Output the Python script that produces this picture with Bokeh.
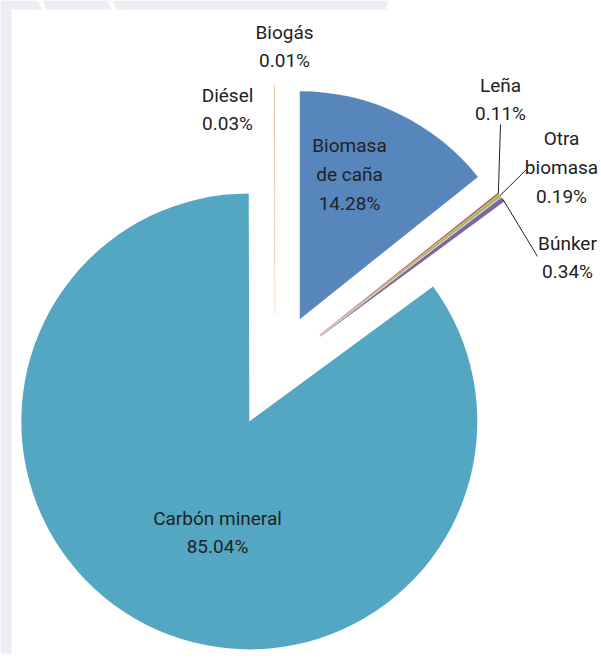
import numpy as np
from bokeh.plotting import figure
from bokeh.models import ColumnDataSource, Range1d
from bokeh.core.properties import value
from bokeh.embed import file_html
from bokeh.resources import INLINE

# Fuel shares (%) in drawing order, clockwise from 12 o'clock
categories = ["Biomasa de caña", "Leña", "Otra biomasa", "Búnker",
              "Carbón mineral", "Diésel", "Biogás"]
shares = [14.28, 0.11, 0.19, 0.34, 85.04, 0.03, 0.01]
colors = ["#5686BB", "#C0504D", "#9BBB59", "#8064A2",
          "#53A7C2", "#F79646", "#D9D9D9"]
# label text as wrapped on the chart
label_names = ["Biomasa\nde caña", "Leña", "Otra\nbiomasa", "Búnker",
               "Carbón mineral", "Diésel", "Biogás"]

W, H = 601, 663
FONT = value("Roboto")


def sy(y):
    """screen-pixel y (top down) -> plot y (bottom up)"""
    return H - y


# pie geometry
CX, CY = 274.5, sy(370)
R = 228
EXPLODE = 0.25 * R

vals = np.array(shares, dtype=float)
ends = np.cumsum(vals) / vals.sum() * 360.0
starts = ends - vals / vals.sum() * 360.0
mids = np.radians((starts + ends) / 2)

ox = CX + EXPLODE * np.sin(mids)
oy = CY + EXPLODE * np.cos(mids)

src = ColumnDataSource(dict(
    x=ox, y=oy,
    start=np.radians(90 - ends), end=np.radians(90 - starts),
    color=colors,
    lw=[0.6 if 0.05 < v < 1 else (0.4 if 0.02 < v < 1 else 0) for v in shares],
))

p = figure(width=W, height=H, x_range=Range1d(0, W), y_range=Range1d(0, H),
           min_border=0, x_axis_location=None, y_axis_location=None,
           toolbar_location=None, output_backend="svg")
p.grid.visible = False
p.outline_line_color = None
p.background_fill_color = "white"
p.border_fill_color = "white"

# light frame behind the chart area
BG = "#EDEEF3"
p.patch([0, 388, 385, 0], [sy(0), sy(0), sy(9), sy(9)], fill_color=BG, line_color=None)
p.patch([0, 11, 11, 0], [sy(0), sy(0), sy(653), sy(653)], fill_color=BG, line_color=None)
for x0 in (37, 107):
    p.patch([x0, x0 + 5, x0 + 9, x0 + 4], [sy(0), sy(0), sy(9), sy(9)],
            fill_color="white", line_color=None)

p.wedge(x="x", y="y", radius=R, start_angle="start", end_angle="end",
        direction="anticlock", fill_color="color", line_color="color",
        line_alpha=0.5, line_width="lw", source=src)

# label placement (block centres, screen px)
label_pos = {
    "Biomasa de caña": (349, 174),
    "Leña": (500, 99),
    "Otra biomasa": (561, 167),
    "Búnker": (567, 257),
    "Carbón mineral": (217, 532),
    "Diésel": (227, 109),
    "Biogás": (284, 46),
}
texts = [f"{n}\n{v:.2f}%" for n, v in zip(label_names, shares)]
p.text(x=[label_pos[c][0] for c in categories],
       y=[sy(label_pos[c][1]) for c in categories],
       text=texts, text_align="center", text_baseline="middle",
       text_font=FONT, text_font_size="19px", text_line_height=1.26,
       text_color="#222222")

# leader lines from outer edge of the thin slices to their labels
leader_end = {"Leña": (500, 124), "Otra biomasa": (527, 168), "Búnker": (537, 256)}
x0s, y0s, x1s, y1s = [], [], [], []
for i, c in enumerate(categories):
    if c in leader_end:
        x0s.append(CX + (R + EXPLODE) * np.sin(mids[i]))
        y0s.append(CY + (R + EXPLODE) * np.cos(mids[i]))
        x1s.append(leader_end[c][0])
        y1s.append(sy(leader_end[c][1]))
p.segment(x0=x0s, y0=y0s, x1=x1s, y1=y1s, line_color="#222222", line_width=1)

open("out.html", "w").write(file_html(p, INLINE))
